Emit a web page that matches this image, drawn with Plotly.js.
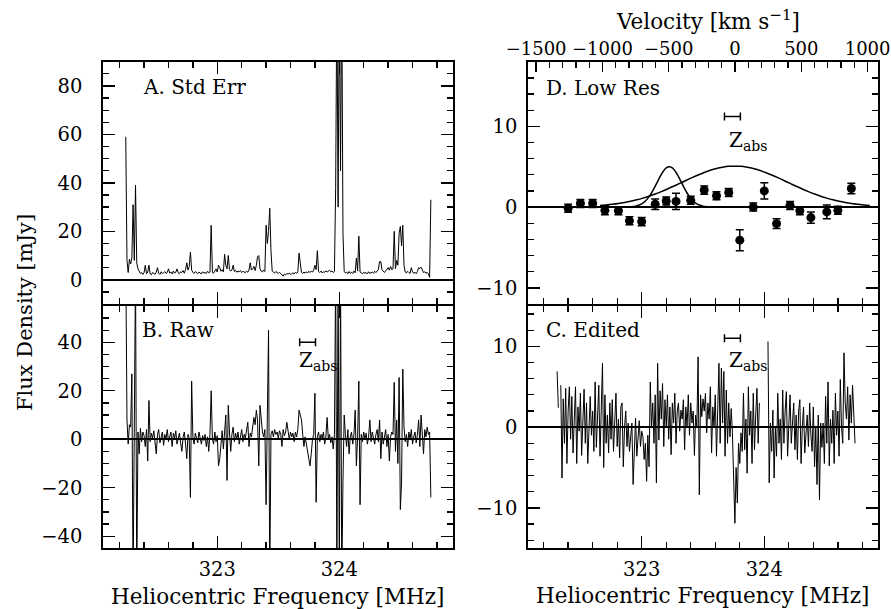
<!DOCTYPE html>
<html><head><meta charset="utf-8">
<script src="https://cdn.plot.ly/plotly-3.0.1.min.js"></script>
<style>html,body{margin:0;padding:0;background:#fff;}#chart{width:891px;height:609px;}</style>
</head><body><div id="chart"></div>
<script>
// ---- data ----
const channelStart = 322.25;   // MHz, first channel
const channelWidth = 0.01;     // MHz per channel

// A. Std Err (mJy), one value per channel
const stdErr = [
 59, 8, 3, 8.5, 6.5, 9, 31, 8, 39, 7,
 4.5, 3.5, 2.6, 3.0, 2.2, 2.9, 6, 2.5, 3.2, 6,
 2.4, 2.1, 3.0, 2.6, 2.3, 3.1, 5, 2.7, 2.2, 3.3,
 2.5, 2.9, 3.4, 2.6, 3.0, 4.5, 2.8, 3.2, 2.4, 3.6,
 2.7, 3.1, 4.5, 2.9, 2.5, 3.3, 3.0, 3.8, 2.7, 4.2,
 7, 4, 5.5, 11.5, 4, 3.1, 2.6, 3.4, 2.8, 2.5,
 3.2, 2.9, 2.4, 3.3, 2.7, 3.0, 2.6, 3.5, 2.9, 3.2,
 22.5, 3.0, 2.7, 3.6, 4.5, 3.2, 6, 5, 3.5, 4.1,
 3.3, 10.5, 6, 4.5, 10, 4.2, 3.6, 4.0, 6, 3.4,
 3.9, 3.1, 3.6, 3.3, 3.8, 3.0, 3.5, 3.2, 2.9, 3.6,
 3.1, 4.0, 7, 4, 4.5, 5.5, 3.8, 6, 9.5, 10,
 4.5, 3.6, 3.2, 4.0, 3.4, 22.5, 15, 20, 29.5, 12,
 3.6, 3.2, 2.8, 3.4, 3.0, 2.6, 3.1, 2.5, 2.2, 1.5,
 2.4, 2.0, 2.6, 2.3, 2.8, 2.2, 2.5, 2.9, 2.4, 3.1,
 2.7, 3.4, 11, 6, 3.0, 2.6, 3.2, 2.7, 3.3, 2.8,
 3.5, 3.0, 3.6, 3.2, 4.0, 6, 4.2, 12, 3.4, 3.0,
 3.6, 2.8, 3.3, 3.1, 3.7, 3.2, 3.5, 3.9, 3.3, 3.6,
 3.0, 3.4, 38, 120, 30, 120, 45, 120, 19, 3.5,
 2.8, 3.2, 2.5, 3.4, 2.7, 3.1, 2.6, 3.6, 2.9, 9,
 3.6, 18, 3.2, 2.8, 2.5, 3.1, 2.7, 3.0, 2.4, 3.3,
 2.6, 2.9, 3.2, 2.7, 3.5, 3.0, 3.8, 4.2, 7.5, 7.5,
 4.1, 3.5, 3.0, 3.7, 4.5, 5, 4, 5.5, 4.2, 4.5,
 20, 4.5, 8, 6, 19, 22, 14, 22.5, 6, 3.2,
 2.8, 3.5, 3.0, 2.6, 5.0, 3.3, 2.7, 3.1, 2.5, 3.4,
 5.0, 4.6, 5.2, 3.6, 3.0, 3.3, 2.7, 3.1, 2.5, 1,
 33
];

// B. Raw (mJy)
const raw = [
 75, 8, -2, 6, 5, 27, -60, 4, 70, -60,
 3, -6, 4.5, -1, 3, 1.5, -3, 4, -9, 16,
 -1, 2.5, 0.5, 3.5, -2, -6, 2, 4, -1.5, 1,
 3, -2.5, 2, 0, 4, -1, 1.5, 3, -3, 2.5,
 0.5, 3.5, -2, 1, 2.5, -1.5, -5, 1, 3, -2,
 -8, 2, 0.5, -24, 24, 1, -2, 2.5, 0, -1.5,
 3, 0.5, -2, 1.5, -0.5, 2, -3, 1, -5, 2,
 20, 0, -2, 3, -1, 1.5, -11, -8, -2, 3.5,
 -4, 5, 10, -17, 14, 3, -5, 2, 5, -1,
 2.5, 0, 3, -2, 1.5, 4, -1, 2, 0.5, 3,
 7, -3, 2.5, 1, 5, 9, 6, 12, 8, -11,
 14, 7, 3, 1, 4, -27, 21, 45, -60, 2,
 3.5, 1, 4, 2, 3, 0.5, 3.5, 2, -3, 4,
 1.5, 3, 7, 2, 0, 3, 1, 2.5, -1, 3,
 1, 4, 12, 10, 8, 2, -3, 1, -2, -4,
 -8, -11, -6, 0, 2, 19, -26, 1, 3, -1,
 2, 0.5, 3, -2, 1, 9, 0, 2, -1.5, 1,
 -4, 2, 70, -60, 70, -60, 70, -60, -17, 10,
 2, -3, 4, -6, 1, 3, -2, 2, 12, -11,
 1, 24, -27, 2, -1, 3, 0, 2.5, -2, 1,
 8, -1, 3, 0.5, -2, 2, 4, -1, 8, -8,
 3, -2, 1, 4, -3, 2, -9, 1, 3, 2,
 23.5, -5, 8, -10, 25.5, -29, -18, 29, 5, -1,
 2, -3, 3, 0, 4, -2, 1, 3, -1.5, 2,
 8, -3, 10, 2, -6, 4, 1, 5, 2, 3,
 -24
];

// C. Edited (mJy), null = flagged channel
const edited = [
 null, null, null, null, null, null, 6.9, 2.4, null, 5.2,
 -6.3, 3.5, -2, 4.8, -4.5, 2, 5, -1.5, 3.8, -3.2,
 1, 5, -4.5, 2.5, -0.5, 4.2, -3.5, 1.5, 4.7, -2,
 3, -4.5, 0.5, 3.8, -1, 2, -3, 5.6, -2.5, 1,
 5.2, -3.6, 2, 7.9, -5, 4, -2, 1.5, -3.2, 3,
 -1.5, 3.4, -3, 0.5, 4.2, -2.4, 1, -3.8, 2.5, 3,
 -4.9, 0, 2, -2.4, 0.5, -3, -1, 0.5, -7.1, -2,
 1.1, -3.6, -1, 0.8, -2.4, -0.5, -1.2, -4, -2, -6.7,
 -1, -4.9, 5.6, 0, 3, -2, 4, -6.9, 7.9, -1.6,
 4.5, 1, 5.4, -2.4, 3.4, 0, 4, -1.5, 2.5, -3.4,
 3, 0.5, 4.2, -2, 2, 3, -0.5, 2.1, 1, 3.4,
 -2.8, 2.5, 0, 4, -1, 3, 0.5, 2, -3.5, 1.5,
 0, 8.7, -8.4, 4, 1.3, 3.5, 2, 4.2, -0.7, 3,
 1, 5, -3.2, 2.5, 0, 4, -3.6, 1.5, 7.9, -2,
 7.3, 0.5, 6.9, -3.6, 4.6, -2, 3, -1.2, 2.3, -0.7,
 -8.2, -11.9, -5, -9.4, -2, -4.5, -0.7, -3, 4.2, -2.8,
 1, -5.7, 5, -1, 2, -4.5, 4.2, -2.8, 1.5, 4.8,
 -2, 3, null, null, null, null, null, null, 10.6, -6.9,
 0.5, -3, 2.1, -6.3, 0, -3.6, 4.2, -2, 1, -4,
 4.6, -2, 2, 4.4, -3.6, 1, 4, -2, 0, 3,
 -2.8, 1.5, -4, 2, 3.4, -4.5, 0, 2.5, -3.2, -1,
 1.5, -2.4, 3, -1, -3, 2.5, -4.9, 0, -7.1, 1.5,
 -9, 0.5, -2.5, 0.5, -4.5, 3.8, -2, 5.6, -4.8, 1,
 -2, 2.1, -4.5, 4.2, -1, 2, -3.6, 5.9, 0, -2,
 9.2, 3, 1, 5, -1.6, 4, 0.5, 5.2, 1, -2,
 null
];

// D. Low Res binned points
const lowResFreq = [322.40, 322.50, 322.60, 322.70, 322.81, 322.90, 323.00, 323.11, 323.20, 323.28, 323.40, 323.51,
                    323.61, 323.71, 323.80, 323.91, 324.00, 324.10, 324.21, 324.29, 324.38, 324.51, 324.60, 324.71];
const lowResFlux = [-0.15, 0.45, 0.45, -0.4, -0.45, -1.7, -1.8, 0.35, 0.75, 0.7, 0.85, 2.1,
                    1.4, 1.8, -4.1, 0.0, 2.0, -2.05, 0.2, -0.45, -1.3, -0.6, -0.4, 2.3];
const lowResErr  = [0.5, 0.5, 0.5, 0.55, 0.5, 0.5, 0.5, 0.65, 0.5, 1.0, 0.5, 0.5,
                    0.5, 0.5, 1.3, 0.5, 1.0, 0.6, 0.5, 0.5, 0.7, 0.85, 0.5, 0.65];

// D. model profiles
const broadFreq = [322.66, 322.71, 322.76, 322.81, 322.86, 322.91, 322.96, 323.01, 323.06, 323.11, 323.16, 323.21,
                   323.26, 323.31, 323.36, 323.41, 323.46, 323.51, 323.56, 323.61, 323.66, 323.71, 323.76,
                   323.81, 323.86, 323.91, 323.96, 324.01, 324.06, 324.11, 324.16, 324.21, 324.26, 324.31,
                   324.36, 324.41, 324.46, 324.51, 324.56, 324.61, 324.66, 324.71, 324.76, 324.81, 324.86];
const broadFlux = [0.19, 0.26, 0.34, 0.44, 0.57, 0.72, 0.90, 1.11, 1.35, 1.62, 1.92, 2.24,
                   2.58, 2.93, 3.29, 3.64, 3.97, 4.28, 4.55, 4.77, 4.93, 5.04, 5.07,
                   5.04, 4.93, 4.77, 4.55, 4.28, 3.97, 3.64, 3.29, 2.93, 2.58, 2.24,
                   1.92, 1.62, 1.35, 1.11, 0.90, 0.72, 0.57, 0.44, 0.34, 0.26, 0.19];
const narrowFreq = [322.925, 322.95, 322.975, 323.0, 323.025, 323.05, 323.075, 323.1, 323.125, 323.15, 323.175, 323.2,
                    323.225, 323.25, 323.275, 323.3, 323.325, 323.35, 323.375, 323.4, 323.425, 323.45, 323.475, 323.5, 323.525];
const narrowFlux = [0.06, 0.12, 0.22, 0.40, 0.68, 1.08, 1.62, 2.29, 3.03, 3.77, 4.41, 4.85,
                    5.00, 4.85, 4.41, 3.77, 3.03, 2.29, 1.62, 1.08, 0.68, 0.40, 0.22, 0.12, 0.06];

// Z_abs marker (frequency range of absorber redshift)
const zabsFreq = [323.74];
const zabsHalfWidth = [0.065];

// axis ranges
const freqRangeLeft = [322.066, 324.934];
const freqRangeRight = [322.075, 324.925];
const velocityRange = [-1559, 1076];

// ---- build ----
const freq = stdErr.map((_, i) => +(channelStart + i * channelWidth).toFixed(3));

const W = 891, H = 609;
const X = p => p / W, Y = p => 1 - p / H;
const FONT = 'DejaVu Serif';
const leftDom = [X(103.3), X(453.3)], rightDom = [X(528.3), X(877.7)];
const topDom = [Y(304), Y(61.7)], botDom = [Y(548.3), Y(306)];

function ax(extra) {
  return Object.assign({
    showline: true, linecolor: 'black', linewidth: 2, mirror: 'ticks',
    ticks: 'inside', ticklen: 12, tickcolor: 'black', tickangle: 0,
    showgrid: false,
    tickfont: {family: FONT, size: 19.5, color: 'black'},
  }, extra);
}
function minor(d) { return {dtick: d, ticks: 'inside', ticklen: 6, tickcolor: 'black', showgrid: false}; }

const black = 'black';
const traces = [
  {x: freq, y: stdErr, xaxis: 'x', yaxis: 'y', mode: 'lines', line: {color: black, width: 1}, hoverinfo: 'skip'},
  {x: freq, y: raw, xaxis: 'x2', yaxis: 'y2', mode: 'lines', line: {color: black, width: 1}, hoverinfo: 'skip'},
  {x: freq, y: edited, xaxis: 'x4', yaxis: 'y4', mode: 'lines', connectgaps: false, line: {color: black, width: 1}, hoverinfo: 'skip'},
  {x: broadFreq, y: broadFlux, xaxis: 'x3', yaxis: 'y3', mode: 'lines', line: {color: black, width: 1.5, shape: 'spline'}},
  {x: narrowFreq, y: narrowFlux, xaxis: 'x3', yaxis: 'y3', mode: 'lines', line: {color: black, width: 1.5, shape: 'spline'}},
  {x: lowResFreq, y: lowResFlux, xaxis: 'x3', yaxis: 'y3', mode: 'markers',
   marker: {color: black, size: 9},
   error_y: {type: 'data', array: lowResErr, visible: true, color: black, thickness: 1.5, width: 4}},
];
[['x2', 'y2', 40], ['x3', 'y3', 11.2], ['x4', 'y4', 11.0]].forEach(([xa, ya, yv]) => {
  traces.push({x: zabsFreq, y: [yv], xaxis: xa, yaxis: ya, mode: 'markers',
    marker: {size: 1, color: 'rgba(0,0,0,0)'},
    error_x: {type: 'data', array: zabsHalfWidth, visible: true, color: black, thickness: 1.5, width: 4}});
});
// velocity scale: its own transparent subplot on top of panel D
traces.push({x: velocityRange, y: [0, 0], xaxis: 'x5', yaxis: 'y5', mode: 'lines', line: {color: 'rgba(0,0,0,0)', width: 1}, hoverinfo: 'skip'});

const txt = (text, x, y, opts) => Object.assign({text, x: X(x), y: Y(y), xref: 'paper', yref: 'paper',
  showarrow: false, xanchor: 'left', yanchor: 'middle', font: {family: FONT, size: 20, color: 'black'}}, opts || {});
const zl = {zeroline: true, zerolinecolor: black, zerolinewidth: 1.6};

const layout = {
  width: W, height: H, margin: {l: 0, r: 0, t: 0, b: 0},
  paper_bgcolor: 'white', plot_bgcolor: 'rgba(0,0,0,0)', showlegend: false,
  xaxis: ax({domain: leftDom, anchor: 'y', range: freqRangeLeft, tick0: 323, dtick: 1, minor: minor(0.2), showticklabels: false, zeroline: false}),
  yaxis: ax(Object.assign({domain: topDom, anchor: 'x', range: [-10, 90], tick0: 0, dtick: 20, minor: minor(5), ticklabelstandoff: 15}, zl)),
  xaxis2: ax({domain: leftDom, anchor: 'y2', range: freqRangeLeft, tick0: 323, dtick: 1, minor: minor(0.2), ticklabelstandoff: 2, zeroline: false}),
  yaxis2: ax(Object.assign({domain: botDom, anchor: 'x2', range: [-45, 55], tick0: 0, dtick: 20, minor: minor(5), ticklabelstandoff: 15}, zl)),
  xaxis3: ax({domain: rightDom, anchor: 'y3', range: freqRangeRight, tick0: 323, dtick: 1, minor: minor(0.2),
              showticklabels: false, mirror: true, zeroline: false}),
  yaxis3: ax(Object.assign({domain: topDom, anchor: 'x3', range: [-12, 18], tick0: 0, dtick: 10, minor: minor(2), ticklabelstandoff: 5}, zl)),
  xaxis4: ax({domain: rightDom, anchor: 'y4', range: freqRangeRight, tick0: 323, dtick: 1, minor: minor(0.2), ticklabelstandoff: 2, zeroline: false}),
  yaxis4: ax(Object.assign({domain: botDom, anchor: 'x4', range: [-15, 15], tick0: 0, dtick: 10, minor: minor(2), ticklabelstandoff: 5}, zl)),
  xaxis5: ax({domain: rightDom, anchor: 'y5', side: 'top', range: velocityRange, tick0: 0, dtick: 500,
              minor: minor(100), showline: false, mirror: false, ticklen: 10, ticklabelstandoff: 2,
              ticklabeloverflow: 'allow', zeroline: false, tickfont: {family: FONT, size: 18, color: 'black'}}),
  yaxis5: {domain: topDom, anchor: 'x5', range: [-1, 1], visible: false, showgrid: false, zeroline: false},
  annotations: [
    txt('A. Std Err', 141, 86.5),
    txt('B. Raw', 140, 330),
    txt('D. Low Res', 544, 87.5),
    txt('C. Edited', 544, 330),
    txt('Z<sub>abs</sub>', 297, 361),
    txt('Z<sub>abs</sub>', 727, 141),
    txt('Z<sub>abs</sub>', 727, 361),
    txt('Velocity [km s<sup>−1</sup>]', 708, 20, {xanchor: 'center', font: {family: FONT, size: 21.5, color: 'black'}}),
    txt('Flux Density [mJy]', 25, 313, {xanchor: 'center', textangle: -90, font: {family: FONT, size: 21, color: 'black'}}),
    txt('Heliocentric Frequency [MHz]', 277.5, 596.5, {xanchor: 'center', font: {family: FONT, size: 21.5, color: 'black'}}),
    txt('Heliocentric Frequency [MHz]', 702.5, 595, {xanchor: 'center', font: {family: FONT, size: 21.5, color: 'black'}}),
  ],
};

Plotly.newPlot('chart', traces, layout, {displayModeBar: false}).then(gd => {
  // lift Plotly's own tick marks to the top layer so the subplot layers cannot hide them
  const svgs = gd.querySelectorAll('svg.main-svg');
  const top = svgs[svgs.length - 1];
  const g = document.createElementNS('http://www.w3.org/2000/svg', 'g');
  g.setAttribute('class', 'lifted-ticks');
  gd.querySelectorAll('path.ticks').forEach(p => {
    const c = p.cloneNode(true);
    let t = p.getAttribute('transform') || '';
    let n = p.parentNode;
    while (n && n.tagName && n.tagName.toLowerCase() !== 'svg') {
      const tr = n.getAttribute('transform');
      if (tr) t = tr + ' ' + t;
      n = n.parentNode;
    }
    if (t) c.setAttribute('transform', t);
    c.style.stroke = 'black';
    c.style.strokeOpacity = '1';
    c.style.strokeWidth = '1.3px';
    c.style.fill = 'none';
    g.appendChild(c);
  });
  top.appendChild(g);
});
</script></body></html>
